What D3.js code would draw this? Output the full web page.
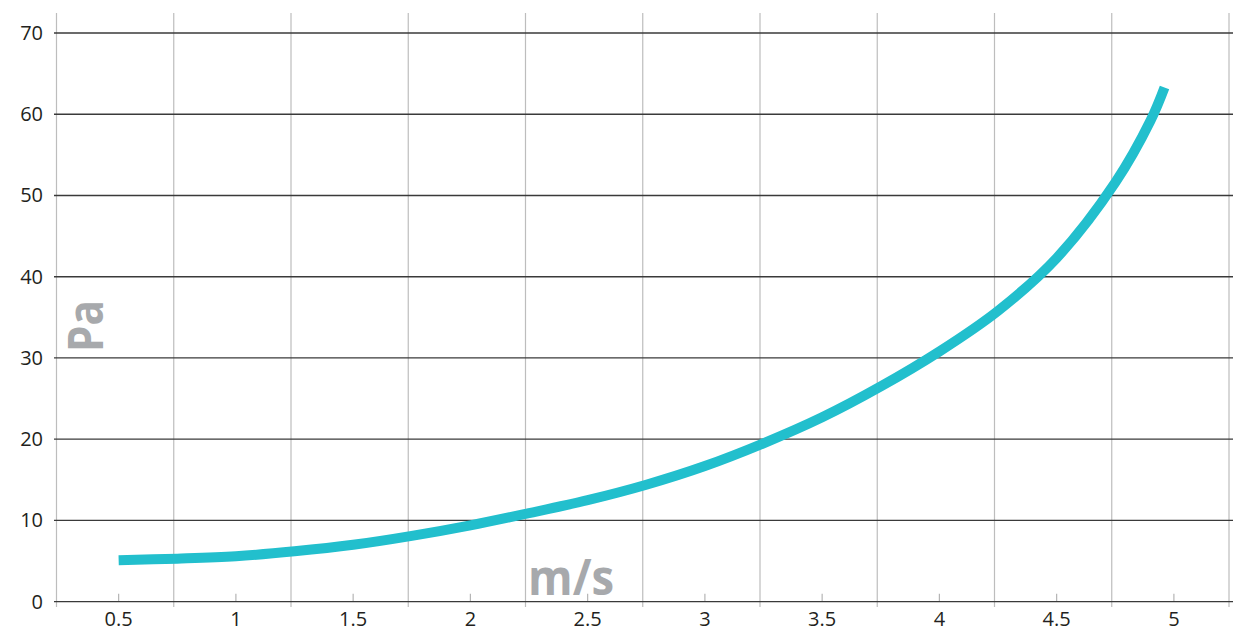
<!DOCTYPE html>
<html>
<head>
<meta charset="utf-8">
<script src="https://cdn.jsdelivr.net/npm/d3@7"></script>
<style>
  html, body { margin: 0; padding: 0; background: #fff; }
  svg { display: block; }
</style>
</head>
<body>
<svg id="chart" width="1233" height="629"></svg>
<script>
// Pressure drop (Pa) against air velocity (m/s)
const speeds    = [0.5, 0.75, 1.0, 1.25, 1.5, 1.75, 2.0, 2.25, 2.5, 2.75, 3.0, 3.25, 3.5, 3.75, 4.0, 4.25, 4.5, 4.75, 4.9, 4.96];
const pressures = [5.1, 5.3, 5.6, 6.2, 7.0, 8.1, 9.4, 10.9, 12.5, 14.4, 16.7, 19.5, 22.7, 26.5, 30.8, 35.8, 42.3, 51.6, 59.2, 63.3];

const xTickValues = [0.5, 1, 1.5, 2, 2.5, 3, 3.5, 4, 4.5, 5];
const xTickLabels = ["0.5", "1", "1.5", "2", "2.5", "3", "3.5", "4", "4.5", "5"];
const xGridValues = [0.235, 0.735, 1.235, 1.735, 2.235, 2.735, 3.235, 3.735, 4.235, 4.735, 5.235];
const yTickValues = [0, 10, 20, 30, 40, 50, 60, 70];

const xAxisTitle = "m/s";
const yAxisTitle = "Pa";

const svg = d3.select("#chart");

const x = d3.scaleLinear().domain([0.235, 5.235]).range([56.5, 1229]);
const y = d3.scaleLinear().domain([0, 70]).range([601.7, 33]);

const font = "'Open Sans', 'Noto Sans', sans-serif";

// vertical grid
svg.append("g")
  .selectAll("line")
  .data(xGridValues)
  .join("line")
  .attr("x1", d => x(d)).attr("x2", d => x(d))
  .attr("y1", 13).attr("y2", 607)
  .attr("stroke", "#bdbdbd")
  .attr("stroke-width", 1.2);

// short ticks at labelled speeds
svg.append("g")
  .selectAll("line")
  .data(xTickValues)
  .join("line")
  .attr("x1", d => x(d)).attr("x2", d => x(d))
  .attr("y1", y(0) - 8).attr("y2", y(0))
  .attr("stroke", "#b5b5b5")
  .attr("stroke-width", 1.2);

// horizontal grid
svg.append("g")
  .selectAll("line")
  .data(yTickValues)
  .join("line")
  .attr("x1", 54).attr("x2", 1233)
  .attr("y1", d => y(d)).attr("y2", d => y(d))
  .attr("stroke", "#3a3a3a")
  .attr("stroke-width", 1.3);

// y tick labels
svg.append("g")
  .selectAll("text")
  .data(yTickValues)
  .join("text")
  .attr("x", 43)
  .attr("y", d => y(d))
  .attr("dy", "0.35em")
  .attr("text-anchor", "end")
  .attr("font-family", font)
  .attr("font-size", 20)
  .attr("fill", "#231f20")
  .text(d => d);

// x tick labels
svg.append("g")
  .selectAll("text")
  .data(xTickValues)
  .join("text")
  .attr("x", d => x(d))
  .attr("y", 626)
  .attr("text-anchor", "middle")
  .attr("font-family", font)
  .attr("font-size", 20)
  .attr("fill", "#231f20")
  .text((d, i) => xTickLabels[i]);

// axis titles
svg.append("text")
  .attr("x", 528)
  .attr("y", 595)
  .attr("font-family", font)
  .attr("font-weight", "bold")
  .attr("font-size", 50)
  .attr("fill", "#a7a9ac")
  .attr("textLength", 86)
  .attr("lengthAdjust", "spacingAndGlyphs")
  .text(xAxisTitle);

svg.append("text")
  .attr("transform", "translate(103,352) rotate(-90)")
  .attr("font-family", font)
  .attr("font-weight", "bold")
  .attr("font-size", 49)
  .attr("fill", "#a7a9ac")
  .attr("textLength", 52)
  .attr("lengthAdjust", "spacingAndGlyphs")
  .text(yAxisTitle);

// curve
const points = speeds.map((s, i) => [s, pressures[i]]);
const line = d3.line()
  .x(d => x(d[0]))
  .y(d => y(d[1]))
  .curve(d3.curveCatmullRom.alpha(0.5));

svg.append("path")
  .datum(points)
  .attr("d", line)
  .attr("fill", "none")
  .attr("stroke", "#22bfcd")
  .attr("stroke-width", 10)
  .attr("stroke-linecap", "butt");
</script>
</body>
</html>
